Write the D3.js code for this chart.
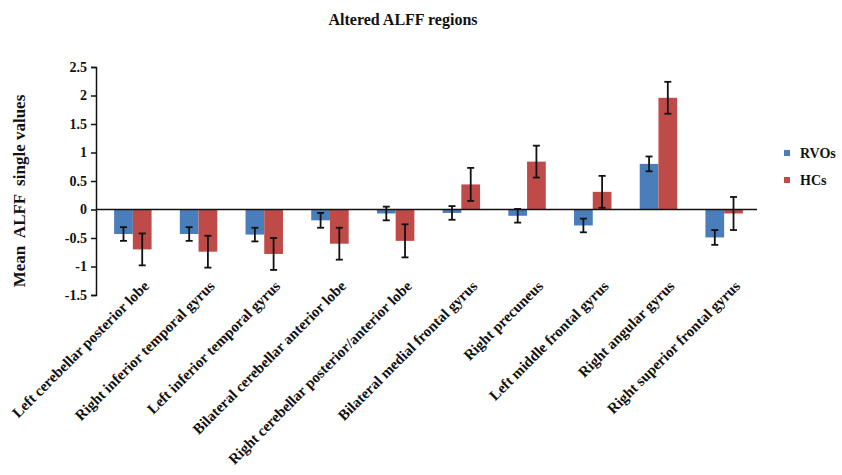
<!DOCTYPE html>
<html>
<head>
<meta charset="utf-8">
<script src="https://cdn.jsdelivr.net/npm/d3@7"></script>
<style>
  html, body { margin: 0; padding: 0; background: #fff; }
  svg text { font-family: "Liberation Serif", "Times New Roman", serif; font-weight: bold; fill: #111; }
</style>
</head>
<body>
<svg id="chart" width="842" height="475"></svg>
<script>
// Brain regions with altered ALFF
const regions = [
  "Left cerebellar posterior lobe",
  "Right inferior temporal gyrus",
  "Left inferior temporal gyrus",
  "Bilateral cerebellar anterior lobe",
  "Right cerebellar posterior/anterior lobe",
  "Bilateral medial frontal gyrus",
  "Right precuneus",
  "Left middle frontal gyrus",
  "Right angular gyrus",
  "Right superior frontal gyrus"
];
const groups = ["RVOs", "HCs"];
// Mean ALFF values and standard errors per group
const rvoMean = [-0.43, -0.43, -0.44, -0.19, -0.07, -0.06, -0.11, -0.28, 0.80, -0.49];
const rvoErr  = [0.12, 0.12, 0.12, 0.13, 0.12, 0.12, 0.12, 0.12, 0.13, 0.13];
const hcMean  = [-0.70, -0.74, -0.78, -0.60, -0.55, 0.44, 0.84, 0.31, 1.96, -0.07];
const hcErr   = [0.28, 0.28, 0.28, 0.28, 0.29, 0.29, 0.28, 0.28, 0.28, 0.29];
const yTicks = [-1.5, -1, -0.5, 0, 0.5, 1, 1.5, 2, 2.5];
const groupColors = ["#4a7ebb", "#be4b48"];

const svg = d3.select("#chart");
const axisX = 96, plotRight = 757;

const y = d3.scaleLinear().domain([-1.5, 2.5]).range([295, 67]);
const x = d3.scaleBand().domain(regions).range([100, plotRight]).paddingInner(0).paddingOuter(0);
const barW = x.bandwidth() * 0.285;
const sub = d3.scaleBand().domain(groups).range([-barW, barW]);

const data = regions.map((r, i) => ({
  region: r,
  values: [
    { g: "RVOs", v: rvoMean[i], e: rvoErr[i] },
    { g: "HCs", v: hcMean[i], e: hcErr[i] }
  ]
}));

// Title
svg.append("text")
  .attr("x", 403).attr("y", 25)
  .attr("text-anchor", "middle")
  .style("font-size", "16px")
  .text("Altered ALFF regions");

// Bars
const g = svg.append("g");
const grp = g.selectAll("g.region").data(data).join("g")
  .attr("transform", d => `translate(${x(d.region) + x.bandwidth() / 2},0)`);

grp.selectAll("rect").data(d => d.values).join("rect")
  .attr("x", d => sub(d.g))
  .attr("width", sub.bandwidth())
  .attr("y", d => y(Math.max(0, d.v)))
  .attr("height", d => Math.abs(y(d.v) - y(0)))
  .attr("fill", (d, i) => groupColors[i]);

// Error bars
const eb = grp.selectAll("g.err").data(d => d.values).join("g")
  .attr("class", "err")
  .attr("transform", d => `translate(${sub(d.g) + sub.bandwidth() / 2},0)`);
eb.append("line")
  .attr("x1", 0).attr("x2", 0)
  .attr("y1", d => y(d.v + d.e)).attr("y2", d => y(d.v - d.e))
  .attr("stroke", "#111").attr("stroke-width", 1.8);
eb.append("line")
  .attr("x1", -3.5).attr("x2", 3.5)
  .attr("y1", d => y(d.v + d.e)).attr("y2", d => y(d.v + d.e))
  .attr("stroke", "#111").attr("stroke-width", 1.8);
eb.append("line")
  .attr("x1", -3.5).attr("x2", 3.5)
  .attr("y1", d => y(d.v - d.e)).attr("y2", d => y(d.v - d.e))
  .attr("stroke", "#111").attr("stroke-width", 1.8);

// Zero baseline
svg.append("line")
  .attr("x1", axisX).attr("x2", plotRight)
  .attr("y1", y(0)).attr("y2", y(0))
  .attr("stroke", "#111").attr("stroke-width", 1.5);

// Y axis
const yAxis = svg.append("g")
  .attr("transform", `translate(${axisX},0)`)
  .call(d3.axisLeft(y).tickValues(yTicks).tickSize(5).tickPadding(4)
    .tickFormat(d => String(d)));
yAxis.select(".domain").attr("stroke", "#111").attr("stroke-width", 1.5);
yAxis.selectAll(".tick line").attr("stroke", "#111").attr("stroke-width", 1.5);
yAxis.selectAll("text").style("font-size", "14px")
  .style("font-family", "'Liberation Serif', serif").style("font-weight", "bold").attr("fill", "#111");

// Y axis title
svg.append("text")
  .attr("transform", "translate(25,191) rotate(-90)")
  .attr("text-anchor", "middle")
  .style("font-size", "17px")
  .style("white-space", "pre")
  .text("Mean  ALFF  single values");

// Category labels
svg.append("g").selectAll("text").data(regions).join("text")
  .attr("transform", d => `translate(${x(d) + x.bandwidth() / 2 + 17},287) rotate(-45)`)
  .attr("text-anchor", "end")
  .style("font-size", "15px")
  .text(d => d);

// Legend
const leg = svg.append("g").attr("transform", "translate(784,150)");
groups.forEach((name, i) => {
  leg.append("rect")
    .attr("x", 0).attr("y", i * 27)
    .attr("width", 6).attr("height", 6)
    .attr("fill", groupColors[i]);
  leg.append("text")
    .attr("x", 16).attr("y", i * 27 + 8)
    .style("font-size", "14px")
    .text(name);
});
</script>
</body>
</html>
